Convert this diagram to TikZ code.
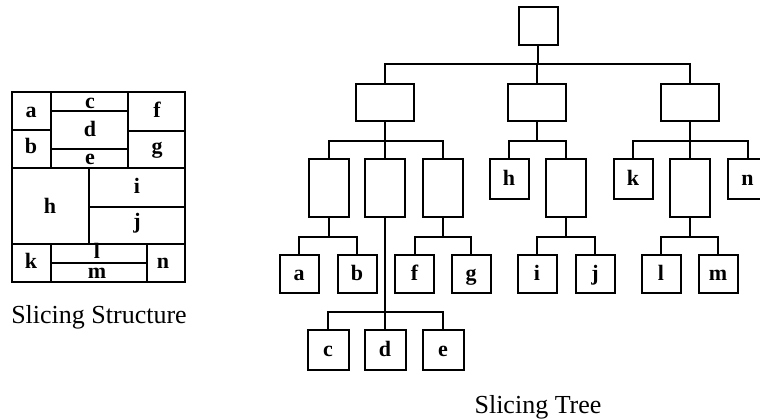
\documentclass[tikz,border=0pt]{standalone}
\usepackage{fontspec}
\setmainfont{Liberation Serif}
\begin{document}
\begin{tikzpicture}[x=1pt,y=-1pt,
  ln/.style={line width=2pt},
  lbl/.style={font=\fontsize{22}{24}\selectfont\bfseries, inner sep=0pt, anchor=base},
  tbox/.style={draw, line width=2pt, inner sep=0pt,
    font=\fontsize{22}{24}\selectfont\bfseries,
    text height=16pt, text depth=4pt},
  leaf/.style={tbox, minimum width=39pt, minimum height=38pt},
  tall/.style={tbox, minimum width=40pt, minimum height=58pt},
  mid/.style={tbox, minimum width=58pt, minimum height=37pt},
  captext/.style={font=\fontsize{26}{30}\selectfont, inner sep=0pt, anchor=base}]
\clip (0,0) rectangle (760,420);
\fill[white] (0,0) rectangle (760,420);

% ---- slicing structure (floorplan) ----
\draw[ln] (12,92) rectangle (185,282);
\draw[ln] (51,92) -- (51,168);
\draw[ln] (128,92) -- (128,168);
\draw[ln] (12,130) -- (51,130);
\draw[ln] (51,111) -- (128,111);
\draw[ln] (51,149) -- (128,149);
\draw[ln] (128,131) -- (185,131);
\draw[ln] (12,168) -- (185,168);
\draw[ln] (89,168) -- (89,244);
\draw[ln] (89,207) -- (185,207);
\draw[ln] (12,244) -- (185,244);
\draw[ln] (51,244) -- (51,282);
\draw[ln] (147,244) -- (147,282);
\draw[ln] (51,263) -- (147,263);

\node[lbl] (sa) at (31,117) {a};
\node[lbl] (sb) at (31,153) {b};
\node[lbl] (sc) at (90,108) {c};
\node[lbl] (sd) at (90,136) {d};
\node[lbl] (se) at (90,164) {e};
\node[lbl] (sf) at (157,117) {f};
\node[lbl] (sg) at (157,153) {g};
\node[lbl] (sh) at (50,213) {h};
\node[lbl] (si) at (137,193) {i};
\node[lbl] (sj) at (137,228) {j};
\node[lbl] (sk) at (31,268) {k};
\node[lbl] (sl) at (97,258) {l};
\node[lbl] (sm) at (97,278) {m};
\node[lbl] (sn) at (163,268) {n};

\node[captext] (capS) at (99,323) {Slicing Structure};

% ---- slicing tree ----
\node[tbox, minimum width=39pt, minimum height=38pt] (root) at (538,26.5) {};

\node[mid] (A) at (385,102) {};
\node[mid] (B) at (537,102) {};
\node[mid] (C) at (690,102) {};

\node[tall] (A1) at (328.7,188) {};
\node[tall] (A2) at (385,188) {};
\node[tall] (A3) at (443,188) {};
\node[leaf, minimum height=40pt] (h) at (509,179) {h};
\node[tall] (B2) at (566,188) {};
\node[leaf, minimum height=40pt] (k) at (633,179) {k};
\node[tall] (C2) at (690,188) {};
\node[leaf, minimum height=40pt] (n) at (747.5,179) {n};

\node[leaf] (a) at (299,274) {a};
\node[leaf] (b) at (357,274) {b};
\node[leaf] (f) at (414.5,274) {f};
\node[leaf] (g) at (471,274) {g};
\node[leaf] (i) at (537,274) {i};
\node[leaf] (j) at (595,274) {j};
\node[leaf] (l) at (661,274) {l};
\node[leaf] (m) at (718,274) {m};

\node[leaf, minimum width=41pt, minimum height=40pt] (c) at (328,350) {c};
\node[leaf, minimum width=41pt, minimum height=40pt] (d) at (385,350) {d};
\node[leaf, minimum width=41pt, minimum height=40pt] (e) at (443,350) {e};

% connectors: stem down to a bus, then across and down to each child
\foreach \ch in {A,B,C}
  \draw[ln] (root.south) -- (root.south |- 0,64) -| (\ch.north);
\foreach \ch in {A1,A2,A3}
  \draw[ln] (A.south) -- (A.south |- 0,141) -| (\ch.north);
\foreach \ch in {h,B2}
  \draw[ln] (B.south) -- (B.south |- 0,141) -| (\ch.north);
\foreach \ch in {k,C2,n}
  \draw[ln] (C.south) -- (C.south |- 0,141) -| (\ch.north);
\foreach \ch in {a,b}
  \draw[ln] (A1.south) -- (A1.south |- 0,237) -| (\ch.north);
\foreach \ch in {f,g}
  \draw[ln] (A3.south) -- (A3.south |- 0,237) -| (\ch.north);
\foreach \ch in {i,j}
  \draw[ln] (B2.south) -- (B2.south |- 0,237) -| (\ch.north);
\foreach \ch in {l,m}
  \draw[ln] (C2.south) -- (C2.south |- 0,237) -| (\ch.north);
\foreach \ch in {c,d,e}
  \draw[ln] (A2.south) -- (A2.south |- 0,312) -| (\ch.north);

\node[captext] (capT) at (538,413) {Slicing Tree};
\end{tikzpicture}
\end{document}
